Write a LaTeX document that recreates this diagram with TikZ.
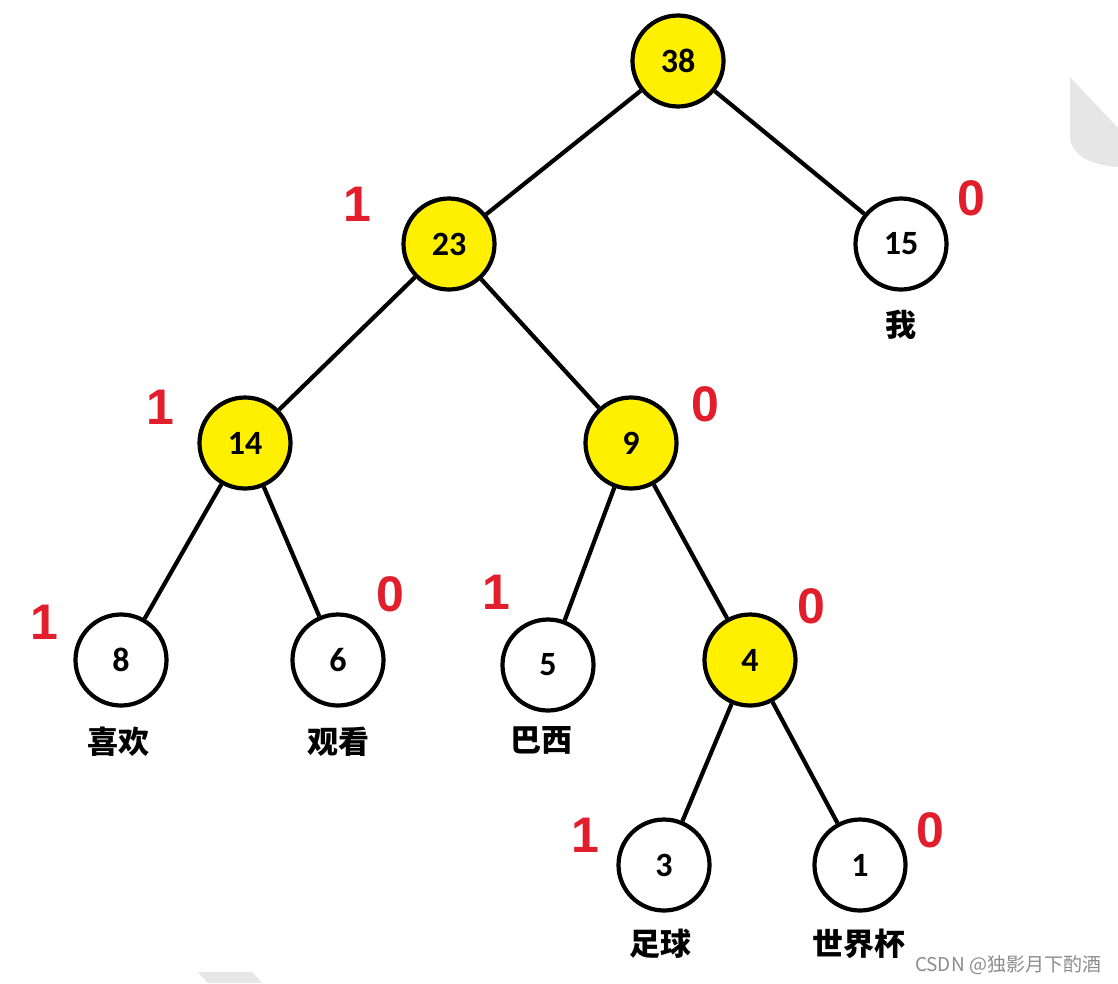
\documentclass[tikz,border=0pt]{standalone}
\usepackage{fontspec}
\setmainfont{Carlito}
\newfontfamily\cjk{Noto Sans CJK SC}
\newfontfamily\redf{Liberation Sans}
\definecolor{nodeyellow}{RGB}{255,240,0}
\definecolor{bitred}{RGB}{226,30,45}
\definecolor{wm}{RGB}{230,230,230}
\definecolor{wmtext}{RGB}{140,140,140}
\tikzset{
  nd/.style={circle, draw=black, line width=4.2pt, minimum size=91pt, inner sep=0pt, font=\bfseries\fontsize{34}{34}\selectfont},
  yel/.style={nd, fill=nodeyellow},
  wht/.style={nd, fill=white},
  bit/.style={text=bitred, inner sep=0pt, font=\redf\bfseries\fontsize{50}{50}\selectfont},
  word/.style={inner sep=0pt, font=\cjk\bfseries\fontsize{31}{31}\selectfont},
  edge/.style={line width=4.2pt, draw=black}
}
\begin{document}
\begin{tikzpicture}[x=1pt,y=-1pt]
\useasboundingbox (0,0) rectangle (1118,983);
\fill[white] (0,0) rectangle (1118,983);
% light gray decorative shapes
\fill[wm] (1070,77) -- (1118,128) -- (1118,167) .. controls (1090,165) and (1072,155) .. (1070,138) -- cycle;
\fill[wm] (198,972) -- (252,972) -- (262,983) -- (208,983) -- cycle;
% nodes
\node[yel] (n38) at (678,61) {38};
\node[yel] (n23) at (449,244) {23};
\node[wht] (n15) at (901,244) {15};
\node[yel] (n14) at (245,443) {14};
\node[yel] (n9) at (631,443) {9};
\node[wht] (n8) at (121,660) {8};
\node[wht] (n6) at (338,660) {6};
\node[wht] (n5) at (548,665) {5};
\node[yel] (n4) at (750,660) {4};
\node[wht] (n3) at (664,865) {3};
\node[wht] (n1) at (860,865) {1};
% edges
\draw[edge] (n38) -- (n23);
\draw[edge] (n38) -- (n15);
\draw[edge] (n23) -- (n14);
\draw[edge] (n23) -- (n9);
\draw[edge] (n14) -- (n8);
\draw[edge] (n14) -- (n6);
\draw[edge] (n9) -- (n5);
\draw[edge] (n9) -- (n4);
\draw[edge] (n4) -- (n3);
\draw[edge] (n4) -- (n1);
% bit labels
\node[bit] (b23) at (357,204) {1};
\node[bit] (b15) at (971,198) {0};
\node[bit] (b14) at (160,407) {1};
\node[bit] (b9) at (705,404) {0};
\node[bit] (b8) at (44,622) {1};
\node[bit] (b6) at (390,594) {0};
\node[bit] (b5) at (496,592) {1};
\node[bit] (b4) at (811,606) {0};
\node[bit] (b3) at (585,835) {1};
\node[bit] (b1) at (930,830) {0};
% words
\node[word] (w15) at (901,325) {我};
\node[word] (w8) at (118,742) {喜欢};
\node[word] (w6) at (338,742) {观看};
\node[word] (w5) at (541,740) {巴西};
\node[word] (w3) at (660,944) {足球};
\node[word] (w1) at (859,944) {世界杯};
% watermark
\node[inner sep=0pt, text=wmtext, font=\cjk\fontsize{19}{19}\selectfont] (wmk) at (1008,965) {CSDN @独影月下酌酒};
\end{tikzpicture}
\end{document}
